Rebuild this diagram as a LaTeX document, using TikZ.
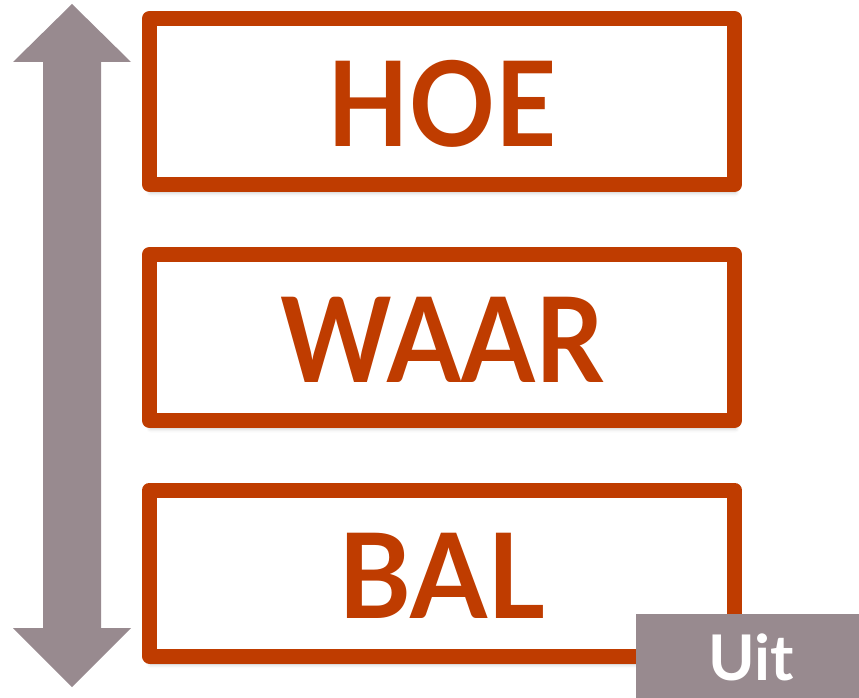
\documentclass[tikz,border=0pt]{standalone}
\usepackage{fontspec}
\setmainfont{Lato}[UprightFont=* Bold]
\usetikzlibrary{shadows.blur}
\definecolor{rust}{RGB}{191,60,0}
\definecolor{mauve}{RGB}{152,138,143}
\tikzset{
  wordbox/.style={draw=rust, line width=15pt, line join=round, fill=white,
    minimum width=585pt, minimum height=166pt, inner sep=0pt, text=rust,
    text height=90pt, text depth=0pt,
    font=\fontsize{118}{118}\selectfont,
    blur shadow={shadow xshift=1pt, shadow yshift=-8pt, shadow blur radius=4pt, shadow opacity=25}},
  tagtext/.style={text=white, font=\fontsize{63}{63}\selectfont, anchor=base, inner sep=0pt},
}
\begin{document}
\begin{tikzpicture}[x=1pt,y=-1pt]
\useasboundingbox (0,0) rectangle (859,698);
\clip (0,0) rectangle (859,698);
% double arrow
\fill[mauve] (72,4) -- (131,62) -- (101,62) -- (101,628) -- (131,628) -- (72,687)
  -- (13,628) -- (43,628) -- (43,62) -- (13,62) -- cycle;
\node[wordbox] (hoe) at (442,101.5) {\scalebox{0.9}[1]{HOE}};
\node[wordbox] (waar) at (442,337.5) {\scalebox{0.9}[1]{WAAR}};
\node[wordbox] (bal) at (442,573) {\scalebox{0.94}[1]{BAL}};
\fill[mauve] (636,614) rectangle (870,710);
\node[tagtext] (uit) at (751,680) {Uit};
\end{tikzpicture}
\end{document}
